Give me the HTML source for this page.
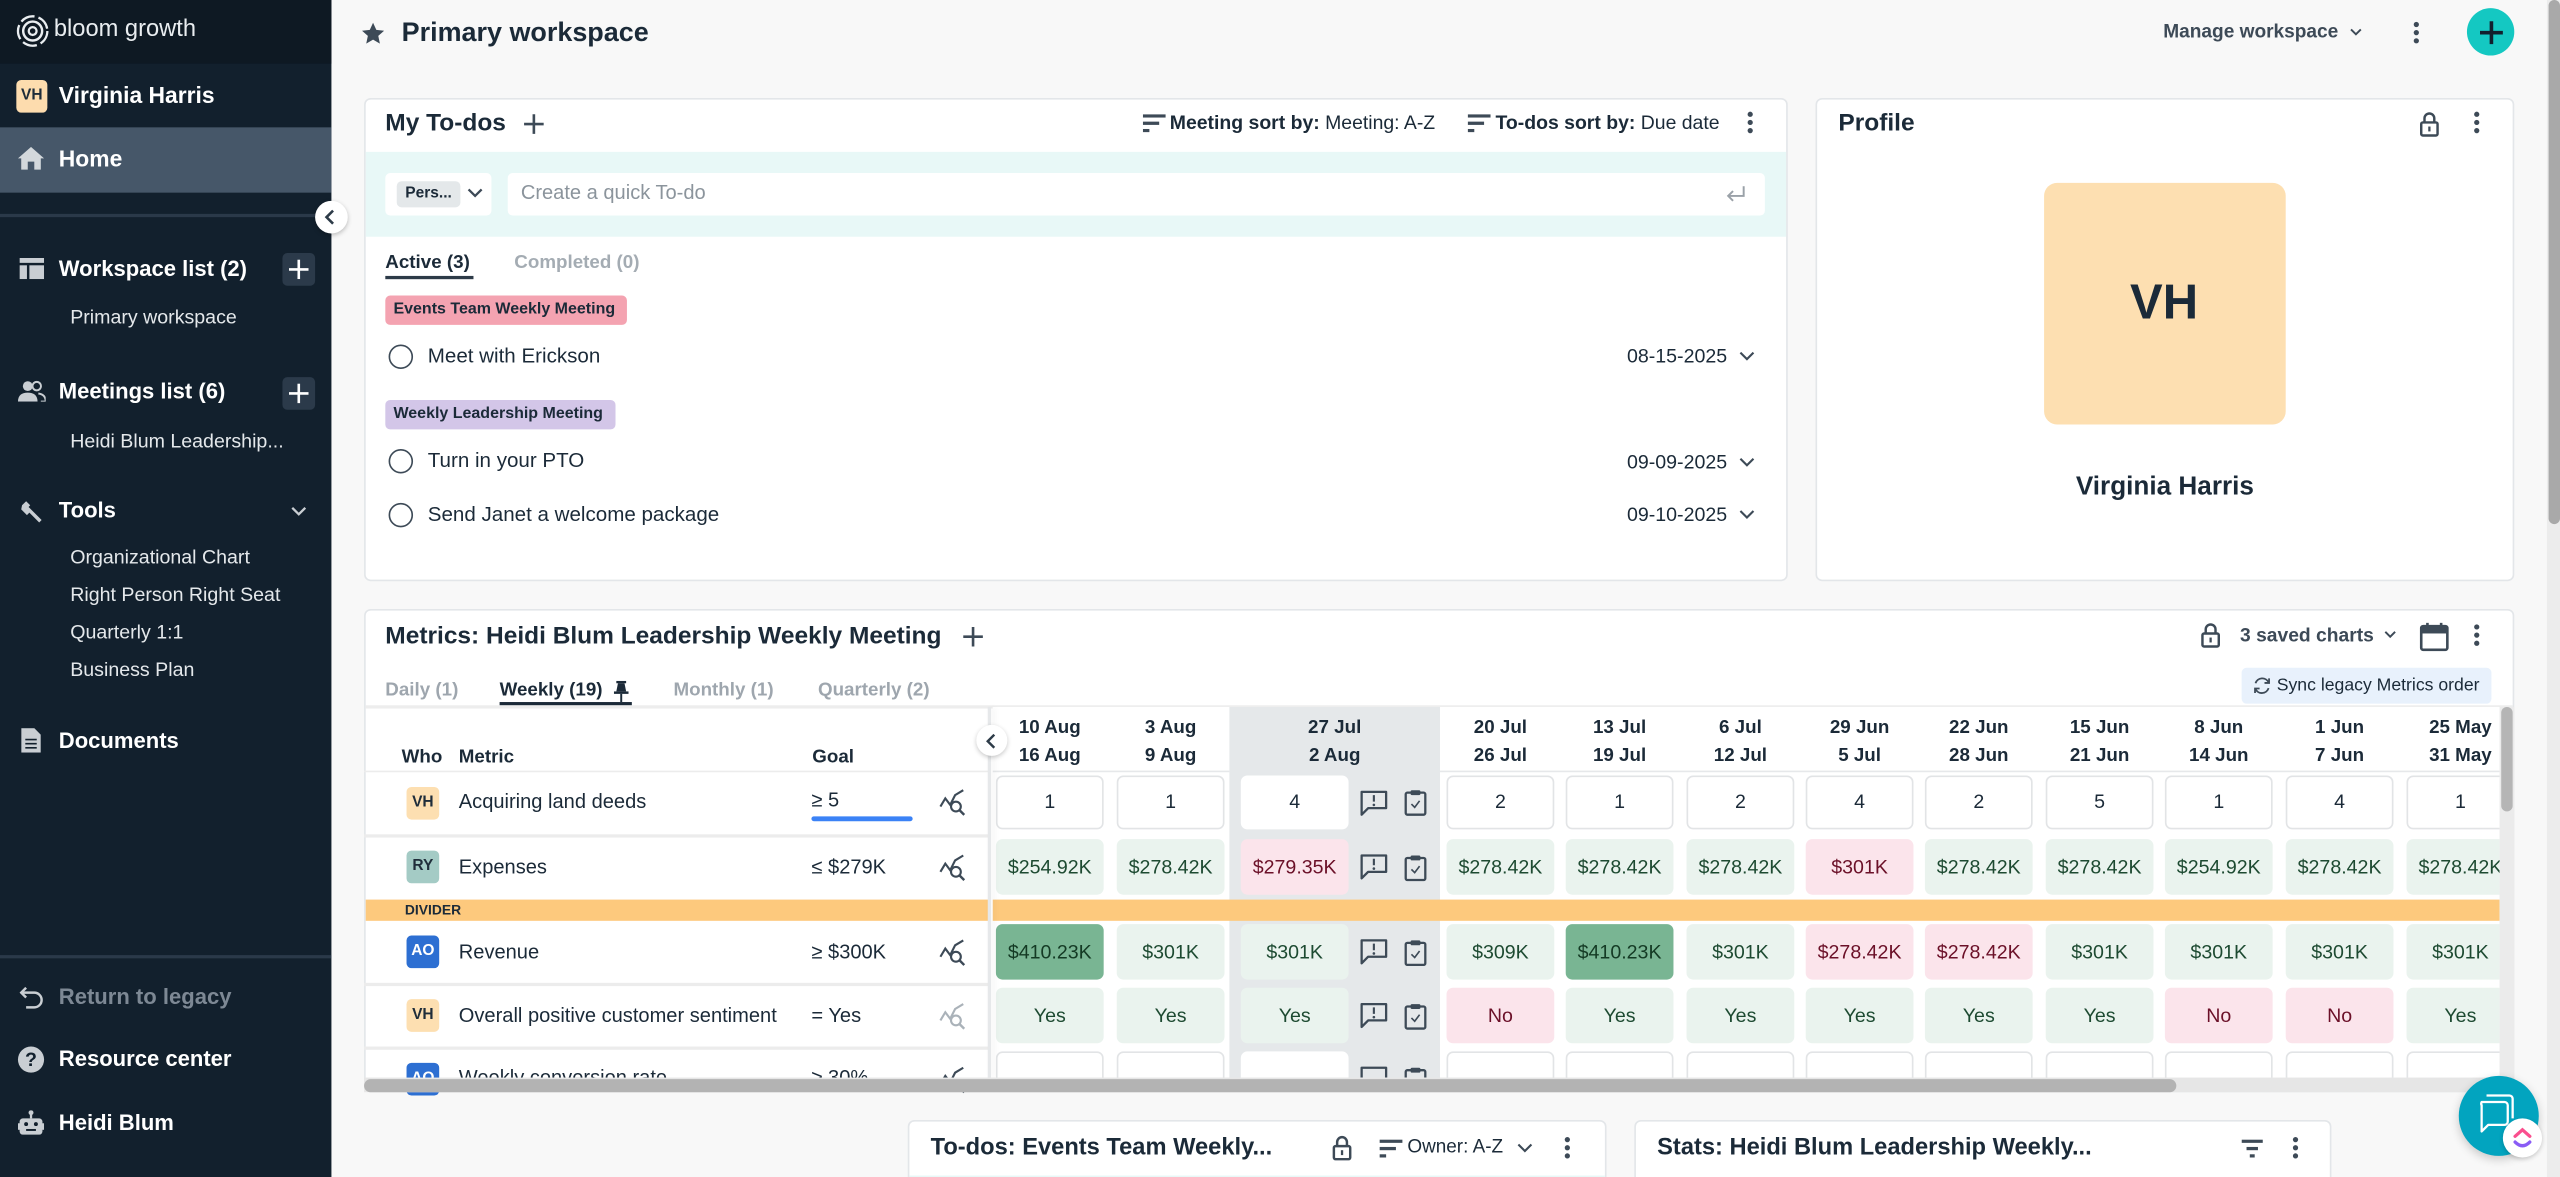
<!DOCTYPE html>
<html><head><meta charset="utf-8">
<style>
html,body{margin:0;padding:0;width:2560px;height:1177px;overflow:hidden;background:#f8f8f8;}
#w{position:absolute;left:0;top:0;width:1568px;height:721px;transform:scale(1.632653);transform-origin:0 0;font-family:"Liberation Sans",Arial,sans-serif;color:#1b2a38;overflow:hidden;background:#f8f8f8;}
.a{position:absolute;}
.t{position:absolute;white-space:nowrap;line-height:16px;height:16px;}
.b{font-weight:bold;}
.sb{color:#fff;font-weight:bold;font-size:13.5px;}
.ss{color:#e4e8eb;font-size:12px;}
.card{position:absolute;background:#fff;border:1px solid #e3e6e9;border-radius:4px;box-sizing:border-box;}
.c{position:absolute;width:66px;height:34px;border-radius:4px;text-align:center;line-height:34px;font-size:12px;box-sizing:border-box;}
.w{background:#fff;border:1px solid #e2e4e6;line-height:31px;height:33px;}
.g{background:#eaf3ee;color:#1d4a31;}
.r{background:#fbe4eb;color:#6b1028;}
.G{background:#79b593;color:#143a24;}
.dh{position:absolute;width:66px;text-align:center;font-weight:bold;font-size:11.5px;line-height:17px;top:5px;}
.bd{position:absolute;width:20px;height:20px;border-radius:3px;font-size:9.5px;font-weight:bold;text-align:center;line-height:20px;}
.mt{font-size:12.3px;}
.ln{position:absolute;left:223px;width:383px;height:2px;background:#ececec;}
</style></head><body>
<div id="w">

<!-- SIDEBAR -->
<div class="a" style="left:0;top:0;width:203px;height:721px;background:#12202d;"></div>
<div class="a" style="left:0;top:0;width:203px;height:39px;background:#0e1923;"></div>
<svg class="a" style="left:10px;top:8.5px" width="20" height="20" viewBox="0 0 20 20"><circle cx="10" cy="10" r="9" fill="none" stroke="#e9edf0" stroke-width="1.4" stroke-dasharray="9 2.5"/><circle cx="10" cy="10" r="5.8" fill="none" stroke="#e9edf0" stroke-width="1.5"/><circle cx="10" cy="10" r="2.4" fill="none" stroke="#e9edf0" stroke-width="1.4"/></svg>
<div class="t" style="left:33px;top:10px;font-size:14.5px;color:#e9edf0;">bloom growth</div>

<div class="bd" style="left:10px;top:48.5px;width:19px;background:#fddcae;color:#1f2d3a;">VH</div>
<div class="t sb" style="left:36px;top:50px;font-size:14px;">Virginia Harris</div>

<div class="a" style="left:0;top:78px;width:203px;height:40px;background:#465769;"></div>
<svg class="a" style="left:11px;top:90px" width="16" height="14" viewBox="0 0 16 14"><path d="M8 0L0 7h2v7h4V9h4v5h4V7h2z" fill="#d3d8dc"/></svg>
<div class="t sb" style="left:36px;top:89px;font-size:14px;">Home</div>

<div class="a" style="left:0;top:130.5px;width:203px;height:2px;background:#2a3949;"></div>
<div class="a" style="left:192.5px;top:122.5px;width:20px;height:20px;border-radius:50%;background:#fff;box-shadow:0 1px 3px rgba(0,0,0,.25);"></div>
<svg class="a" style="left:198px;top:127.5px" width="8" height="10"><path d="M6 1L2 5l4 4" stroke="#2d3b48" stroke-width="1.6" fill="none"/></svg>

<svg class="a" style="left:12px;top:158px" width="15" height="13"><rect x="0" y="0" width="15" height="3" fill="#c9ced3"/><rect x="0" y="4.5" width="4.5" height="8.5" fill="#c9ced3"/><rect x="6" y="4.5" width="9" height="8.5" fill="#c9ced3"/></svg>
<div class="t sb" style="left:36px;top:156.5px;">Workspace list (2)</div>
<div class="a" style="left:173px;top:155px;width:20px;height:20px;background:#2b3a4a;border-radius:3px;"></div>
<svg class="a" style="left:177px;top:159px" width="12" height="12"><path d="M6 0v12M0 6h12" stroke="#fff" stroke-width="1.6"/></svg>
<div class="t ss" style="left:43px;top:186px;">Primary workspace</div>

<svg class="a" style="left:11px;top:233px" width="17" height="13" viewBox="0 0 17 13"><circle cx="6" cy="3.5" r="3" fill="#c9ced3"/><path d="M0 13c0-4 2.5-5.5 6-5.5s6 1.5 6 5.5z" fill="#c9ced3"/><circle cx="11.5" cy="3.5" r="2.6" fill="none" stroke="#c9ced3" stroke-width="1.2"/><path d="M12.5 8c2.5.3 4.5 1.6 4.5 5h-3" fill="none" stroke="#c9ced3" stroke-width="1.2"/></svg>
<div class="t sb" style="left:36px;top:232px;">Meetings list (6)</div>
<div class="a" style="left:173px;top:231px;width:20px;height:20px;background:#2b3a4a;border-radius:3px;"></div>
<svg class="a" style="left:177px;top:235px" width="12" height="12"><path d="M6 0v12M0 6h12" stroke="#fff" stroke-width="1.6"/></svg>
<div class="t ss" style="left:43px;top:261.5px;">Heidi Blum Leadership...</div>

<svg class="a" style="left:12px;top:306px" width="15" height="15" viewBox="0 0 15 15"><path d="M1.5 3.5L4 1l2.5 2.5-1 1 2 2L13.5 12.5 12 14 6 8 4.5 9.5 1 6z" fill="#c9ced3"/></svg>
<div class="t sb" style="left:36px;top:305px;">Tools</div>
<svg class="a" style="left:178px;top:310px" width="10" height="7"><path d="M1 1l4 4 4-4" stroke="#c9ced3" stroke-width="1.4" fill="none"/></svg>
<div class="t ss" style="left:43px;top:333px;">Organizational Chart</div>
<div class="t ss" style="left:43px;top:356px;">Right Person Right Seat</div>
<div class="t ss" style="left:43px;top:379px;">Quarterly 1:1</div>
<div class="t ss" style="left:43px;top:402px;">Business Plan</div>

<svg class="a" style="left:13px;top:446px" width="12" height="15" viewBox="0 0 12 15"><path d="M0 0h8l4 4v11H0z" fill="#c9ced3"/><path d="M2.5 7h7M2.5 9.5h7M2.5 12h7" stroke="#12202d" stroke-width="1"/></svg>
<div class="t sb" style="left:36px;top:446px;">Documents</div>

<div class="a" style="left:0;top:585px;width:203px;height:2px;background:#2a3949;"></div>
<svg class="a" style="left:12px;top:604px" width="15" height="14" viewBox="0 0 15 14"><path d="M4 1L1 4l3 3" stroke="#c9ced3" stroke-width="1.5" fill="none"/><path d="M1.5 4H9a4.5 4.5 0 0 1 0 9H4" stroke="#c9ced3" stroke-width="1.5" fill="none"/></svg>
<div class="t sb" style="left:36px;top:603px;color:#7d8894;">Return to legacy</div>
<div class="a" style="left:11px;top:641px;width:16px;height:16px;border-radius:50%;background:#c9ced3;color:#12202d;font-size:12px;font-weight:bold;text-align:center;line-height:16px;">?</div>
<div class="t sb" style="left:36px;top:641px;">Resource center</div>
<svg class="a" style="left:11px;top:680px" width="16" height="15" viewBox="0 0 16 15"><circle cx="8" cy="1.5" r="1.5" fill="#c9ced3"/><rect x="7.3" y="2" width="1.4" height="3" fill="#c9ced3"/><rect x="1" y="5" width="14" height="10" rx="2" fill="#c9ced3"/><rect x="0" y="8" width="16" height="4" fill="#c9ced3"/><circle cx="5" cy="8.5" r="1.2" fill="#12202d"/><circle cx="11" cy="8.5" r="1.2" fill="#12202d"/><rect x="5" y="11.5" width="6" height="1.2" fill="#12202d"/></svg>
<div class="t sb" style="left:36px;top:680px;">Heidi Blum</div>

<!-- page scrollbar -->
<div class="a" style="left:1560px;top:0;width:8px;height:721px;background:#ececec;"></div>
<div class="a" style="left:1560.5px;top:0;width:7px;height:321px;background:#a9a9a9;border-radius:4px;"></div>

<!-- HEADER -->
<svg class="a" style="left:221px;top:12.5px" width="15" height="15" viewBox="0 0 24 24"><path d="M12 1.5l3.2 7 7.6.8-5.7 5.1 1.6 7.5L12 18l-6.7 3.9 1.6-7.5L1.2 9.3l7.6-.8z" fill="#3d4a57"/></svg>
<div class="t b" style="left:246px;top:12px;font-size:16.5px;">Primary workspace</div>
<div class="t b" style="left:1325px;top:12px;font-size:11.7px;color:#3d4a57;">Manage workspace</div>
<svg class="a" style="left:1439px;top:17px" width="8" height="6"><path d="M1 1l3 3 3-3" stroke="#3d4a57" stroke-width="1.2" fill="none"/></svg>
<svg class="a" style="left:1478px;top:13px" width="4" height="14"><circle cx="2" cy="2" r="1.6" fill="#3d4a57"/><circle cx="2" cy="7" r="1.6" fill="#3d4a57"/><circle cx="2" cy="12" r="1.6" fill="#3d4a57"/></svg>
<div class="a" style="left:1511px;top:5px;width:29px;height:29px;border-radius:50%;background:#14c8c2;"></div>
<svg class="a" style="left:1517.5px;top:11.5px" width="16" height="16"><path d="M8 1v14M1 8h14" stroke="#12202d" stroke-width="2.2"/></svg>

<!-- TODOS CARD -->
<div class="card" style="left:223px;top:59.5px;width:872px;height:296px;"></div>
<div class="t b" style="left:236px;top:68px;font-size:15px;">My To-dos</div>
<svg class="a" style="left:320px;top:69px" width="14" height="14"><path d="M7 1v12M1 7h12" stroke="#3d4a57" stroke-width="1.6"/></svg>
<svg class="a" style="left:699.5px;top:70px" width="14" height="11"><rect x="0" y="0" width="14" height="2" fill="#3d4a57"/><rect x="0" y="4.5" width="10" height="2" fill="#3d4a57"/><rect x="0" y="9" width="4" height="2" fill="#3d4a57"/></svg>
<div class="t" style="left:716.5px;top:67px;font-size:11.9px;"><b>Meeting sort by:</b> Meeting: A-Z</div>
<svg class="a" style="left:899px;top:70px" width="14" height="11"><rect x="0" y="0" width="14" height="2" fill="#3d4a57"/><rect x="0" y="4.5" width="10" height="2" fill="#3d4a57"/><rect x="0" y="9" width="4" height="2" fill="#3d4a57"/></svg>
<div class="t" style="left:916px;top:67px;font-size:11.9px;"><b>To-dos sort by:</b> Due date</div>
<svg class="a" style="left:1070px;top:68px" width="4" height="14"><circle cx="2" cy="2" r="1.6" fill="#3d4a57"/><circle cx="2" cy="7" r="1.6" fill="#3d4a57"/><circle cx="2" cy="12" r="1.6" fill="#3d4a57"/></svg>

<div class="a" style="left:224px;top:92.5px;width:870px;height:52px;background:#e8f8f7;"></div>
<div class="a" style="left:235.5px;top:105.5px;width:65px;height:26px;background:#fff;border-radius:3px;"></div>
<div class="a" style="left:243px;top:110.5px;width:39px;height:16px;background:#e4e8ea;border-radius:3px;font-size:9.5px;font-weight:bold;line-height:16px;text-align:center;">Pers...</div>
<svg class="a" style="left:286px;top:115px" width="10" height="7"><path d="M1 1l4 4 4-4" stroke="#3d4a57" stroke-width="1.4" fill="none"/></svg>
<div class="a" style="left:311px;top:105.5px;width:770px;height:26px;background:#fff;border-radius:3px;"></div>
<div class="t" style="left:319px;top:110px;font-size:12.3px;color:#8b949c;">Create a quick To-do</div>
<svg class="a" style="left:1057px;top:114px" width="12" height="10"><path d="M11 0v6H2" stroke="#9aa1a8" stroke-width="1.2" fill="none"/><path d="M4.5 3L1.5 6l3 3" stroke="#9aa1a8" stroke-width="1.2" fill="none"/></svg>

<div class="t b" style="left:236px;top:153px;font-size:11.5px;">Active (3)</div>
<div class="a" style="left:236px;top:169px;width:53.5px;height:2px;background:#2d3b48;"></div>
<div class="t b" style="left:315px;top:153px;font-size:11.5px;color:#a4acb3;">Completed (0)</div>

<div class="a" style="left:236px;top:180.5px;width:148px;height:18px;background:#f4a3b1;border-radius:3px;"></div>
<div class="t b" style="left:241px;top:181.5px;font-size:9.8px;">Events Team Weekly Meeting</div>
<div class="a" style="left:238px;top:210.5px;width:15px;height:15px;border:1.5px solid #3d4a57;border-radius:50%;box-sizing:border-box;"></div>
<div class="t" style="left:262px;top:209.5px;font-size:12.6px;">Meet with Erickson</div>
<div class="t" style="left:996.5px;top:210px;font-size:12px;">08-15-2025</div>
<svg class="a" style="left:1065px;top:215px" width="10" height="7"><path d="M1 1l4 4 4-4" stroke="#3d4a57" stroke-width="1.3" fill="none"/></svg>

<div class="a" style="left:236px;top:244.5px;width:141px;height:18px;background:#d3c6e8;border-radius:3px;"></div>
<div class="t b" style="left:241px;top:245.5px;font-size:9.8px;">Weekly Leadership Meeting</div>
<div class="a" style="left:238px;top:275px;width:15px;height:15px;border:1.5px solid #3d4a57;border-radius:50%;box-sizing:border-box;"></div>
<div class="t" style="left:262px;top:274px;font-size:12.6px;">Turn in your PTO</div>
<div class="t" style="left:996.5px;top:274.5px;font-size:12px;">09-09-2025</div>
<svg class="a" style="left:1065px;top:279.5px" width="10" height="7"><path d="M1 1l4 4 4-4" stroke="#3d4a57" stroke-width="1.3" fill="none"/></svg>
<div class="a" style="left:238px;top:307.5px;width:15px;height:15px;border:1.5px solid #3d4a57;border-radius:50%;box-sizing:border-box;"></div>
<div class="t" style="left:262px;top:306.5px;font-size:12.6px;">Send Janet a welcome package</div>
<div class="t" style="left:996.5px;top:307px;font-size:12px;">09-10-2025</div>
<svg class="a" style="left:1065px;top:312px" width="10" height="7"><path d="M1 1l4 4 4-4" stroke="#3d4a57" stroke-width="1.3" fill="none"/></svg>

<!-- PROFILE CARD -->
<div class="card" style="left:1112px;top:59.5px;width:427.5px;height:296px;"></div>
<div class="t b" style="left:1126px;top:68px;font-size:15px;">Profile</div>
<svg class="a" style="left:1481.5px;top:67.5px" width="12" height="16" viewBox="0 0 12 16"><path d="M3 7V4.5a3 3 0 0 1 6 0V7" fill="none" stroke="#3d4a57" stroke-width="1.5"/><rect x="1" y="7" width="10" height="8" rx="1" fill="none" stroke="#3d4a57" stroke-width="1.5"/><rect x="5.3" y="9.5" width="1.4" height="3" fill="#3d4a57"/></svg>
<svg class="a" style="left:1514.5px;top:68px" width="4" height="14"><circle cx="2" cy="2" r="1.6" fill="#3d4a57"/><circle cx="2" cy="7" r="1.6" fill="#3d4a57"/><circle cx="2" cy="12" r="1.6" fill="#3d4a57"/></svg>
<div class="a" style="left:1251.5px;top:112px;width:148px;height:148px;background:#fddfb1;border-radius:8px;text-align:center;line-height:148px;font-size:30px;font-weight:bold;color:#1b2a38;">VH</div>
<div class="t b" style="left:1226px;width:200px;text-align:center;top:290.5px;font-size:16px;">Virginia Harris</div>

<!-- METRICS CARD -->
<div class="card" style="left:223px;top:373px;width:1317px;height:296px;"></div>
<div class="t b" style="left:236px;top:381.5px;font-size:15px;">Metrics: Heidi Blum Leadership Weekly Meeting</div>
<svg class="a" style="left:589px;top:382.5px" width="14" height="14"><path d="M7 1v12M1 7h12" stroke="#3d4a57" stroke-width="1.6"/></svg>
<svg class="a" style="left:1347.5px;top:381px" width="12" height="16" viewBox="0 0 12 16"><path d="M3 7V4.5a3 3 0 0 1 6 0V7" fill="none" stroke="#3d4a57" stroke-width="1.5"/><rect x="1" y="7" width="10" height="8" rx="1" fill="none" stroke="#3d4a57" stroke-width="1.5"/><rect x="5.3" y="9.5" width="1.4" height="3" fill="#3d4a57"/></svg>
<div class="t b" style="left:1372px;top:381px;font-size:11.8px;color:#3d4a57;">3 saved charts</div>
<svg class="a" style="left:1460px;top:386px" width="8" height="6"><path d="M1 1l3 3 3-3" stroke="#3d4a57" stroke-width="1.2" fill="none"/></svg>
<svg class="a" style="left:1481.5px;top:380.5px" width="18" height="18" viewBox="0 0 18 18"><rect x="1" y="2.5" width="16" height="14.5" rx="1.2" fill="none" stroke="#3d4a57" stroke-width="1.6"/><rect x="1" y="2.5" width="16" height="4.5" fill="#3d4a57"/><rect x="4" y="0.5" width="1.6" height="3" fill="#3d4a57"/><rect x="12.4" y="0.5" width="1.6" height="3" fill="#3d4a57"/></svg>
<svg class="a" style="left:1514.5px;top:382px" width="4" height="14"><circle cx="2" cy="2" r="1.6" fill="#3d4a57"/><circle cx="2" cy="7" r="1.6" fill="#3d4a57"/><circle cx="2" cy="12" r="1.6" fill="#3d4a57"/></svg>

<div class="a" style="left:1373px;top:408.5px;width:153px;height:22px;background:#e8f1fc;border-radius:3px;"></div>
<svg class="a" style="left:1380px;top:413.5px" width="11" height="12" viewBox="0 0 11 12"><path d="M9.5 4A4.3 4.3 0 0 0 1.5 4.5" fill="none" stroke="#3d4a57" stroke-width="1.1"/><path d="M1.5 8A4.3 4.3 0 0 0 9.5 7.5" fill="none" stroke="#3d4a57" stroke-width="1.1"/><path d="M9.8 1.5V4.3H7" fill="none" stroke="#3d4a57" stroke-width="1.1"/><path d="M1.2 10.5V7.7H4" fill="none" stroke="#3d4a57" stroke-width="1.1"/></svg>
<div class="t" style="left:1394.5px;top:411.5px;font-size:10.8px;">Sync legacy Metrics order</div>

<div class="t b" style="left:236px;top:415px;font-size:11.5px;color:#9ea6ae;">Daily (1)</div>
<div class="t b" style="left:306px;top:415px;font-size:11.5px;">Weekly (19)</div>
<svg class="a" style="left:375.5px;top:417px" width="9" height="13" viewBox="0 0 9 13"><rect x="1.5" y="0" width="6" height="1.5" fill="#1b2a38"/><path d="M2.5 1.5h4l1 5h-6z" fill="#1b2a38"/><rect x="0" y="6.5" width="9" height="1.5" fill="#1b2a38"/><rect x="3.9" y="8" width="1.2" height="5" fill="#1b2a38"/></svg>
<div class="a" style="left:306px;top:429.5px;width:80.5px;height:2px;background:#1b2a38;"></div>
<div class="t b" style="left:412.5px;top:415px;font-size:11.5px;color:#9ea6ae;">Monthly (1)</div>
<div class="t b" style="left:501px;top:415px;font-size:11.5px;color:#9ea6ae;">Quarterly (2)</div>
<div class="a" style="left:224px;top:431.5px;width:1315px;height:2px;background:#ededed;"></div>

<!-- left table -->
<div class="t b" style="left:246px;top:455.5px;font-size:11.5px;">Who</div>
<div class="t b" style="left:281px;top:455.5px;font-size:11.5px;">Metric</div>
<div class="t b" style="left:497.5px;top:455.5px;font-size:11.5px;">Goal</div>
<div class="ln" style="top:471.5px;height:1.5px;"></div>

<div class="bd" style="left:249px;top:481.5px;background:#fddfb1;color:#1f2d3a;">VH</div>
<div class="t mt" style="left:281px;top:483px;">Acquiring land deeds</div>
<div class="t mt" style="left:497px;top:481.5px;">≥ 5</div>
<div class="a" style="left:497px;top:499.5px;width:62px;height:3px;background:#3b82f6;border-radius:2px;"></div>
<svg class="a" style="left:574.5px;top:483px" width="17" height="17" viewBox="0 0 17 17"><path d="M1 11l3-5 3 4 3-6 5-3" fill="none" stroke="#3d4a57" stroke-width="1.3"/><circle cx="10.5" cy="11" r="3" fill="#fff" stroke="#3d4a57" stroke-width="1.3"/><path d="M12.6 13.1l3 3" stroke="#3d4a57" stroke-width="1.5"/></svg>
<div class="ln" style="top:510.5px;"></div>

<div class="bd" style="left:249px;top:521px;background:#a4cbc5;color:#1f2d3a;">RY</div>
<div class="t mt" style="left:281px;top:522.5px;">Expenses</div>
<div class="t mt" style="left:497px;top:522.5px;">≤ $279K</div>
<svg class="a" style="left:574.5px;top:522.5px" width="17" height="17" viewBox="0 0 17 17"><path d="M1 11l3-5 3 4 3-6 5-3" fill="none" stroke="#3d4a57" stroke-width="1.3"/><circle cx="10.5" cy="11" r="3" fill="#fff" stroke="#3d4a57" stroke-width="1.3"/><path d="M12.6 13.1l3 3" stroke="#3d4a57" stroke-width="1.5"/></svg>

<div class="a" style="left:224px;top:550.5px;width:382px;height:13px;background:#fdc97d;"></div>
<div class="t b" style="left:248px;top:549px;font-size:8.5px;">DIVIDER</div>

<div class="bd" style="left:249px;top:573px;background:#2d6fd2;color:#fff;">AO</div>
<div class="t mt" style="left:281px;top:575px;">Revenue</div>
<div class="t mt" style="left:497px;top:575px;">≥ $300K</div>
<svg class="a" style="left:574.5px;top:574.5px" width="17" height="17" viewBox="0 0 17 17"><path d="M1 11l3-5 3 4 3-6 5-3" fill="none" stroke="#3d4a57" stroke-width="1.3"/><circle cx="10.5" cy="11" r="3" fill="#fff" stroke="#3d4a57" stroke-width="1.3"/><path d="M12.6 13.1l3 3" stroke="#3d4a57" stroke-width="1.5"/></svg>
<div class="ln" style="top:601.5px;"></div>

<div class="bd" style="left:249px;top:612px;background:#fddfb1;color:#1f2d3a;">VH</div>
<div class="t mt" style="left:281px;top:614px;">Overall positive customer sentiment</div>
<div class="t mt" style="left:497px;top:614px;">= Yes</div>
<svg class="a" style="left:574.5px;top:613.5px" width="17" height="17" viewBox="0 0 17 17"><path d="M1 11l3-5 3 4 3-6 5-3" fill="none" stroke="#aab2b9" stroke-width="1.3"/><circle cx="10.5" cy="11" r="3" fill="#fff" stroke="#aab2b9" stroke-width="1.3"/><path d="M12.6 13.1l3 3" stroke="#aab2b9" stroke-width="1.5"/></svg>
<div class="ln" style="top:640.5px;"></div>

<div class="bd" style="left:249px;top:651px;background:#2d6fd2;color:#fff;">AO</div>
<div class="t mt" style="left:281px;top:652px;">Weekly conversion rate</div>
<div class="t mt" style="left:497px;top:652px;">≥ 30%</div>
<svg class="a" style="left:574.5px;top:652.5px" width="17" height="17" viewBox="0 0 17 17"><path d="M1 11l3-5 3 4 3-6 5-3" fill="none" stroke="#3d4a57" stroke-width="1.3"/><circle cx="10.5" cy="11" r="3" fill="#fff" stroke="#3d4a57" stroke-width="1.3"/><path d="M12.6 13.1l3 3" stroke="#3d4a57" stroke-width="1.5"/></svg>

<!-- right table -->
<div class="a" style="left:608px;top:433px;width:923px;height:227px;overflow:hidden;background:#fff;">
  <div class="a" style="left:145px;top:0;width:129px;height:227px;background:#e5e8ea;"></div>
  <div class="a" style="left:0;top:38.5px;width:145px;height:1px;background:#e6e8ea;"></div>
  <div class="a" style="left:274px;top:38.5px;width:649px;height:1px;background:#e6e8ea;"></div>

  <div class="dh" style="left:2px;">10 Aug<br>16 Aug</div>
  <div class="dh" style="left:76px;">3 Aug<br>9 Aug</div>
  <div class="dh" style="left:176.5px;">27 Jul<br>2 Aug</div>
  <div class="dh" style="left:278px;">20 Jul<br>26 Jul</div>
  <div class="dh" style="left:351px;">13 Jul<br>19 Jul</div>
  <div class="dh" style="left:425px;">6 Jul<br>12 Jul</div>
  <div class="dh" style="left:498px;">29 Jun<br>5 Jul</div>
  <div class="dh" style="left:571px;">22 Jun<br>28 Jun</div>
  <div class="dh" style="left:645px;">15 Jun<br>21 Jun</div>
  <div class="dh" style="left:718px;">8 Jun<br>14 Jun</div>
  <div class="dh" style="left:792px;">1 Jun<br>7 Jun</div>
  <div class="dh" style="left:866px;">25 May<br>31 May</div>

  <!-- R1 -->
  <div class="c w" style="left:2px;top:42px;">1</div>
  <div class="c w" style="left:76px;top:42px;">1</div>
  <div class="c" style="left:152px;top:42px;height:33px;line-height:33px;background:#fff;">4</div>
  <div class="c w" style="left:278px;top:42px;">2</div>
  <div class="c w" style="left:351px;top:42px;">1</div>
  <div class="c w" style="left:425px;top:42px;">2</div>
  <div class="c w" style="left:498px;top:42px;">4</div>
  <div class="c w" style="left:571px;top:42px;">2</div>
  <div class="c w" style="left:645px;top:42px;">5</div>
  <div class="c w" style="left:718px;top:42px;">1</div>
  <div class="c w" style="left:792px;top:42px;">4</div>
  <div class="c w" style="left:866px;top:42px;">1</div>
  <!-- R2 -->
  <div class="c g" style="left:2px;top:81px;">$254.92K</div>
  <div class="c g" style="left:76px;top:81px;">$278.42K</div>
  <div class="c r" style="left:152px;top:81px;">$279.35K</div>
  <div class="c g" style="left:278px;top:81px;">$278.42K</div>
  <div class="c g" style="left:351px;top:81px;">$278.42K</div>
  <div class="c g" style="left:425px;top:81px;">$278.42K</div>
  <div class="c r" style="left:498px;top:81px;">$301K</div>
  <div class="c g" style="left:571px;top:81px;">$278.42K</div>
  <div class="c g" style="left:645px;top:81px;">$278.42K</div>
  <div class="c g" style="left:718px;top:81px;">$254.92K</div>
  <div class="c g" style="left:792px;top:81px;">$278.42K</div>
  <div class="c g" style="left:866px;top:81px;">$278.42K</div>
  <!-- divider -->
  <div class="a" style="left:0;top:118px;width:923px;height:12.5px;background:#fdc97d;"></div>
  <!-- R3 -->
  <div class="c G" style="left:2px;top:133px;">$410.23K</div>
  <div class="c g" style="left:76px;top:133px;">$301K</div>
  <div class="c g" style="left:152px;top:133px;">$301K</div>
  <div class="c g" style="left:278px;top:133px;">$309K</div>
  <div class="c G" style="left:351px;top:133px;">$410.23K</div>
  <div class="c g" style="left:425px;top:133px;">$301K</div>
  <div class="c r" style="left:498px;top:133px;">$278.42K</div>
  <div class="c r" style="left:571px;top:133px;">$278.42K</div>
  <div class="c g" style="left:645px;top:133px;">$301K</div>
  <div class="c g" style="left:718px;top:133px;">$301K</div>
  <div class="c g" style="left:792px;top:133px;">$301K</div>
  <div class="c g" style="left:866px;top:133px;">$301K</div>
  <!-- R4 -->
  <div class="c g" style="left:2px;top:172px;">Yes</div>
  <div class="c g" style="left:76px;top:172px;">Yes</div>
  <div class="c g" style="left:152px;top:172px;">Yes</div>
  <div class="c r" style="left:278px;top:172px;">No</div>
  <div class="c g" style="left:351px;top:172px;">Yes</div>
  <div class="c g" style="left:425px;top:172px;">Yes</div>
  <div class="c g" style="left:498px;top:172px;">Yes</div>
  <div class="c g" style="left:571px;top:172px;">Yes</div>
  <div class="c g" style="left:645px;top:172px;">Yes</div>
  <div class="c r" style="left:718px;top:172px;">No</div>
  <div class="c r" style="left:792px;top:172px;">No</div>
  <div class="c g" style="left:866px;top:172px;">Yes</div>
  <!-- R5 -->
  <div class="c w" style="left:2px;top:211px;"></div>
  <div class="c w" style="left:76px;top:211px;"></div>
  <div class="c" style="left:152px;top:211px;background:#fff;"></div>
  <div class="c w" style="left:278px;top:211px;"></div>
  <div class="c w" style="left:351px;top:211px;"></div>
  <div class="c w" style="left:425px;top:211px;"></div>
  <div class="c w" style="left:498px;top:211px;"></div>
  <div class="c w" style="left:571px;top:211px;"></div>
  <div class="c w" style="left:645px;top:211px;"></div>
  <div class="c w" style="left:718px;top:211px;"></div>
  <div class="c w" style="left:792px;top:211px;"></div>
  <div class="c w" style="left:866px;top:211px;"></div>

  <!-- icons in 27 Jul column -->
  <svg class="a" style="left:225px;top:50.5px" width="17" height="16" viewBox="0 0 17 16"><path d="M1 1h15v10H5l-4 4z" fill="none" stroke="#3d4a57" stroke-width="1.4" stroke-linejoin="round"/><path d="M8.5 3v4" stroke="#3d4a57" stroke-width="1.3"/><circle cx="8.5" cy="9" r=".8" fill="#3d4a57"/></svg>
  <svg class="a" style="left:252px;top:50px" width="14" height="17" viewBox="0 0 14 17"><rect x="1" y="2.5" width="12" height="13.5" rx="1" fill="none" stroke="#3d4a57" stroke-width="1.4"/><rect x="4" y="1" width="6" height="3" rx=".8" fill="#3d4a57"/><path d="M4.5 9.5l2 2 3-4" fill="none" stroke="#3d4a57" stroke-width="1"/></svg>
  <svg class="a" style="left:225px;top:90px" width="17" height="16" viewBox="0 0 17 16"><path d="M1 1h15v10H5l-4 4z" fill="none" stroke="#3d4a57" stroke-width="1.4" stroke-linejoin="round"/><path d="M8.5 3v4" stroke="#3d4a57" stroke-width="1.3"/><circle cx="8.5" cy="9" r=".8" fill="#3d4a57"/></svg>
  <svg class="a" style="left:252px;top:89.5px" width="14" height="17" viewBox="0 0 14 17"><rect x="1" y="2.5" width="12" height="13.5" rx="1" fill="none" stroke="#3d4a57" stroke-width="1.4"/><rect x="4" y="1" width="6" height="3" rx=".8" fill="#3d4a57"/><path d="M4.5 9.5l2 2 3-4" fill="none" stroke="#3d4a57" stroke-width="1"/></svg>
  <svg class="a" style="left:225px;top:142px" width="17" height="16" viewBox="0 0 17 16"><path d="M1 1h15v10H5l-4 4z" fill="none" stroke="#3d4a57" stroke-width="1.4" stroke-linejoin="round"/><path d="M8.5 3v4" stroke="#3d4a57" stroke-width="1.3"/><circle cx="8.5" cy="9" r=".8" fill="#3d4a57"/></svg>
  <svg class="a" style="left:252px;top:141.5px" width="14" height="17" viewBox="0 0 14 17"><rect x="1" y="2.5" width="12" height="13.5" rx="1" fill="none" stroke="#3d4a57" stroke-width="1.4"/><rect x="4" y="1" width="6" height="3" rx=".8" fill="#3d4a57"/><path d="M4.5 9.5l2 2 3-4" fill="none" stroke="#3d4a57" stroke-width="1"/></svg>
  <svg class="a" style="left:225px;top:181px" width="17" height="16" viewBox="0 0 17 16"><path d="M1 1h15v10H5l-4 4z" fill="none" stroke="#3d4a57" stroke-width="1.4" stroke-linejoin="round"/><path d="M8.5 3v4" stroke="#3d4a57" stroke-width="1.3"/><circle cx="8.5" cy="9" r=".8" fill="#3d4a57"/></svg>
  <svg class="a" style="left:252px;top:180.5px" width="14" height="17" viewBox="0 0 14 17"><rect x="1" y="2.5" width="12" height="13.5" rx="1" fill="none" stroke="#3d4a57" stroke-width="1.4"/><rect x="4" y="1" width="6" height="3" rx=".8" fill="#3d4a57"/><path d="M4.5 9.5l2 2 3-4" fill="none" stroke="#3d4a57" stroke-width="1"/></svg>
  <svg class="a" style="left:225px;top:220px" width="17" height="16" viewBox="0 0 17 16"><path d="M1 1h15v10H5l-4 4z" fill="none" stroke="#3d4a57" stroke-width="1.4" stroke-linejoin="round"/></svg>
  <svg class="a" style="left:252px;top:219.5px" width="14" height="17" viewBox="0 0 14 17"><rect x="1" y="2.5" width="12" height="13.5" rx="1" fill="none" stroke="#3d4a57" stroke-width="1.4"/><rect x="4" y="1" width="6" height="3" rx=".8" fill="#3d4a57"/></svg>
</div>

<!-- frozen separator -->
<div class="a" style="left:605px;top:433px;width:2px;height:227px;background:#e6e8ea;box-shadow:2px 0 4px rgba(0,0,0,.06);"></div>
<div class="a" style="left:597.5px;top:443.5px;width:19px;height:19px;border-radius:50%;background:#fff;box-shadow:0 1px 3px rgba(0,0,0,.22);"></div>
<svg class="a" style="left:603px;top:448.5px" width="8" height="10"><path d="M6 1L2 5l4 4" stroke="#2d3b48" stroke-width="1.5" fill="none"/></svg>

<!-- scrollbars of table -->
<div class="a" style="left:1531px;top:433px;width:9px;height:227px;background:#ebebeb;"></div>
<div class="a" style="left:1531.5px;top:433px;width:7px;height:64px;background:#b5b5b5;border-radius:4px;"></div>
<div class="a" style="left:223px;top:660px;width:1317px;height:9px;background:#e6e6e6;"></div>
<div class="a" style="left:223px;top:661px;width:1110px;height:8px;background:#b3b3b3;border-radius:4px;"></div>

<!-- BOTTOM CARDS -->
<div class="card" style="left:555.5px;top:686px;width:428.5px;height:60px;"></div>
<div class="a" style="left:556.5px;top:719.5px;width:426.5px;height:4px;background:#e8f8f7;"></div>
<div class="t b" style="left:570px;top:695px;font-size:14.5px;">To-dos: Events Team Weekly...</div>
<svg class="a" style="left:815.5px;top:695px" width="12" height="16" viewBox="0 0 12 16"><path d="M3 7V4.5a3 3 0 0 1 6 0V7" fill="none" stroke="#3d4a57" stroke-width="1.5"/><rect x="1" y="7" width="10" height="8" rx="1" fill="none" stroke="#3d4a57" stroke-width="1.5"/><rect x="5.3" y="9.5" width="1.4" height="3" fill="#3d4a57"/></svg>
<svg class="a" style="left:845px;top:698px" width="14" height="11"><rect x="0" y="0" width="14" height="2" fill="#3d4a57"/><rect x="0" y="4.5" width="10" height="2" fill="#3d4a57"/><rect x="0" y="9" width="4" height="2" fill="#3d4a57"/></svg>
<div class="t" style="left:862px;top:695px;font-size:11.6px;">Owner: A-Z</div>
<svg class="a" style="left:929px;top:700px" width="10" height="7"><path d="M1 1l4 4 4-4" stroke="#3d4a57" stroke-width="1.3" fill="none"/></svg>
<svg class="a" style="left:958px;top:696px" width="4" height="14"><circle cx="2" cy="2" r="1.6" fill="#3d4a57"/><circle cx="2" cy="7" r="1.6" fill="#3d4a57"/><circle cx="2" cy="12" r="1.6" fill="#3d4a57"/></svg>

<div class="card" style="left:1001px;top:686px;width:427px;height:60px;"></div>
<div class="t b" style="left:1015px;top:695px;font-size:14.5px;">Stats: Heidi Blum Leadership Weekly...</div>
<svg class="a" style="left:1373px;top:698px" width="13" height="11"><rect x="0" y="0" width="13" height="2" fill="#3d4a57"/><rect x="3" y="4.5" width="7" height="2" fill="#3d4a57"/><rect x="5" y="9" width="3" height="2" fill="#3d4a57"/></svg>
<svg class="a" style="left:1403.5px;top:696px" width="4" height="14"><circle cx="2" cy="2" r="1.6" fill="#3d4a57"/><circle cx="2" cy="7" r="1.6" fill="#3d4a57"/><circle cx="2" cy="12" r="1.6" fill="#3d4a57"/></svg>

<!-- CHAT BUBBLE -->
<div class="a" style="left:1506px;top:659px;width:49px;height:49px;border-radius:50%;background:#02a4bf;box-shadow:0 2px 6px rgba(0,0,0,.2);"></div>
<svg class="a" style="left:1517px;top:670px" width="26" height="25" viewBox="0 0 26 25"><path d="M6 1h14a2 2 0 0 1 2 2v12" fill="none" stroke="#fff" stroke-width="1.4"/><path d="M3 5h14a2 2 0 0 1 2 2v10a2 2 0 0 1-2 2H7l-4 4V7a2 2 0 0 1 0-2z" fill="#02a4bf" stroke="#fff" stroke-width="1.4" stroke-linejoin="round"/></svg>
<div class="a" style="left:1533px;top:685px;width:24px;height:24px;border-radius:50%;background:#fff;box-shadow:0 1px 3px rgba(0,0,0,.2);"></div>
<svg class="a" style="left:1538px;top:690px" width="14" height="14" viewBox="0 0 14 14"><path d="M2.5 6L7 2l4.5 4" fill="none" stroke="#fa4f8e" stroke-width="2" stroke-linecap="round"/><path d="M2.5 9.5Q7 14 11.5 9.5" fill="none" stroke="#8a5cf5" stroke-width="2" stroke-linecap="round"/></svg>

</div>
</body></html>
